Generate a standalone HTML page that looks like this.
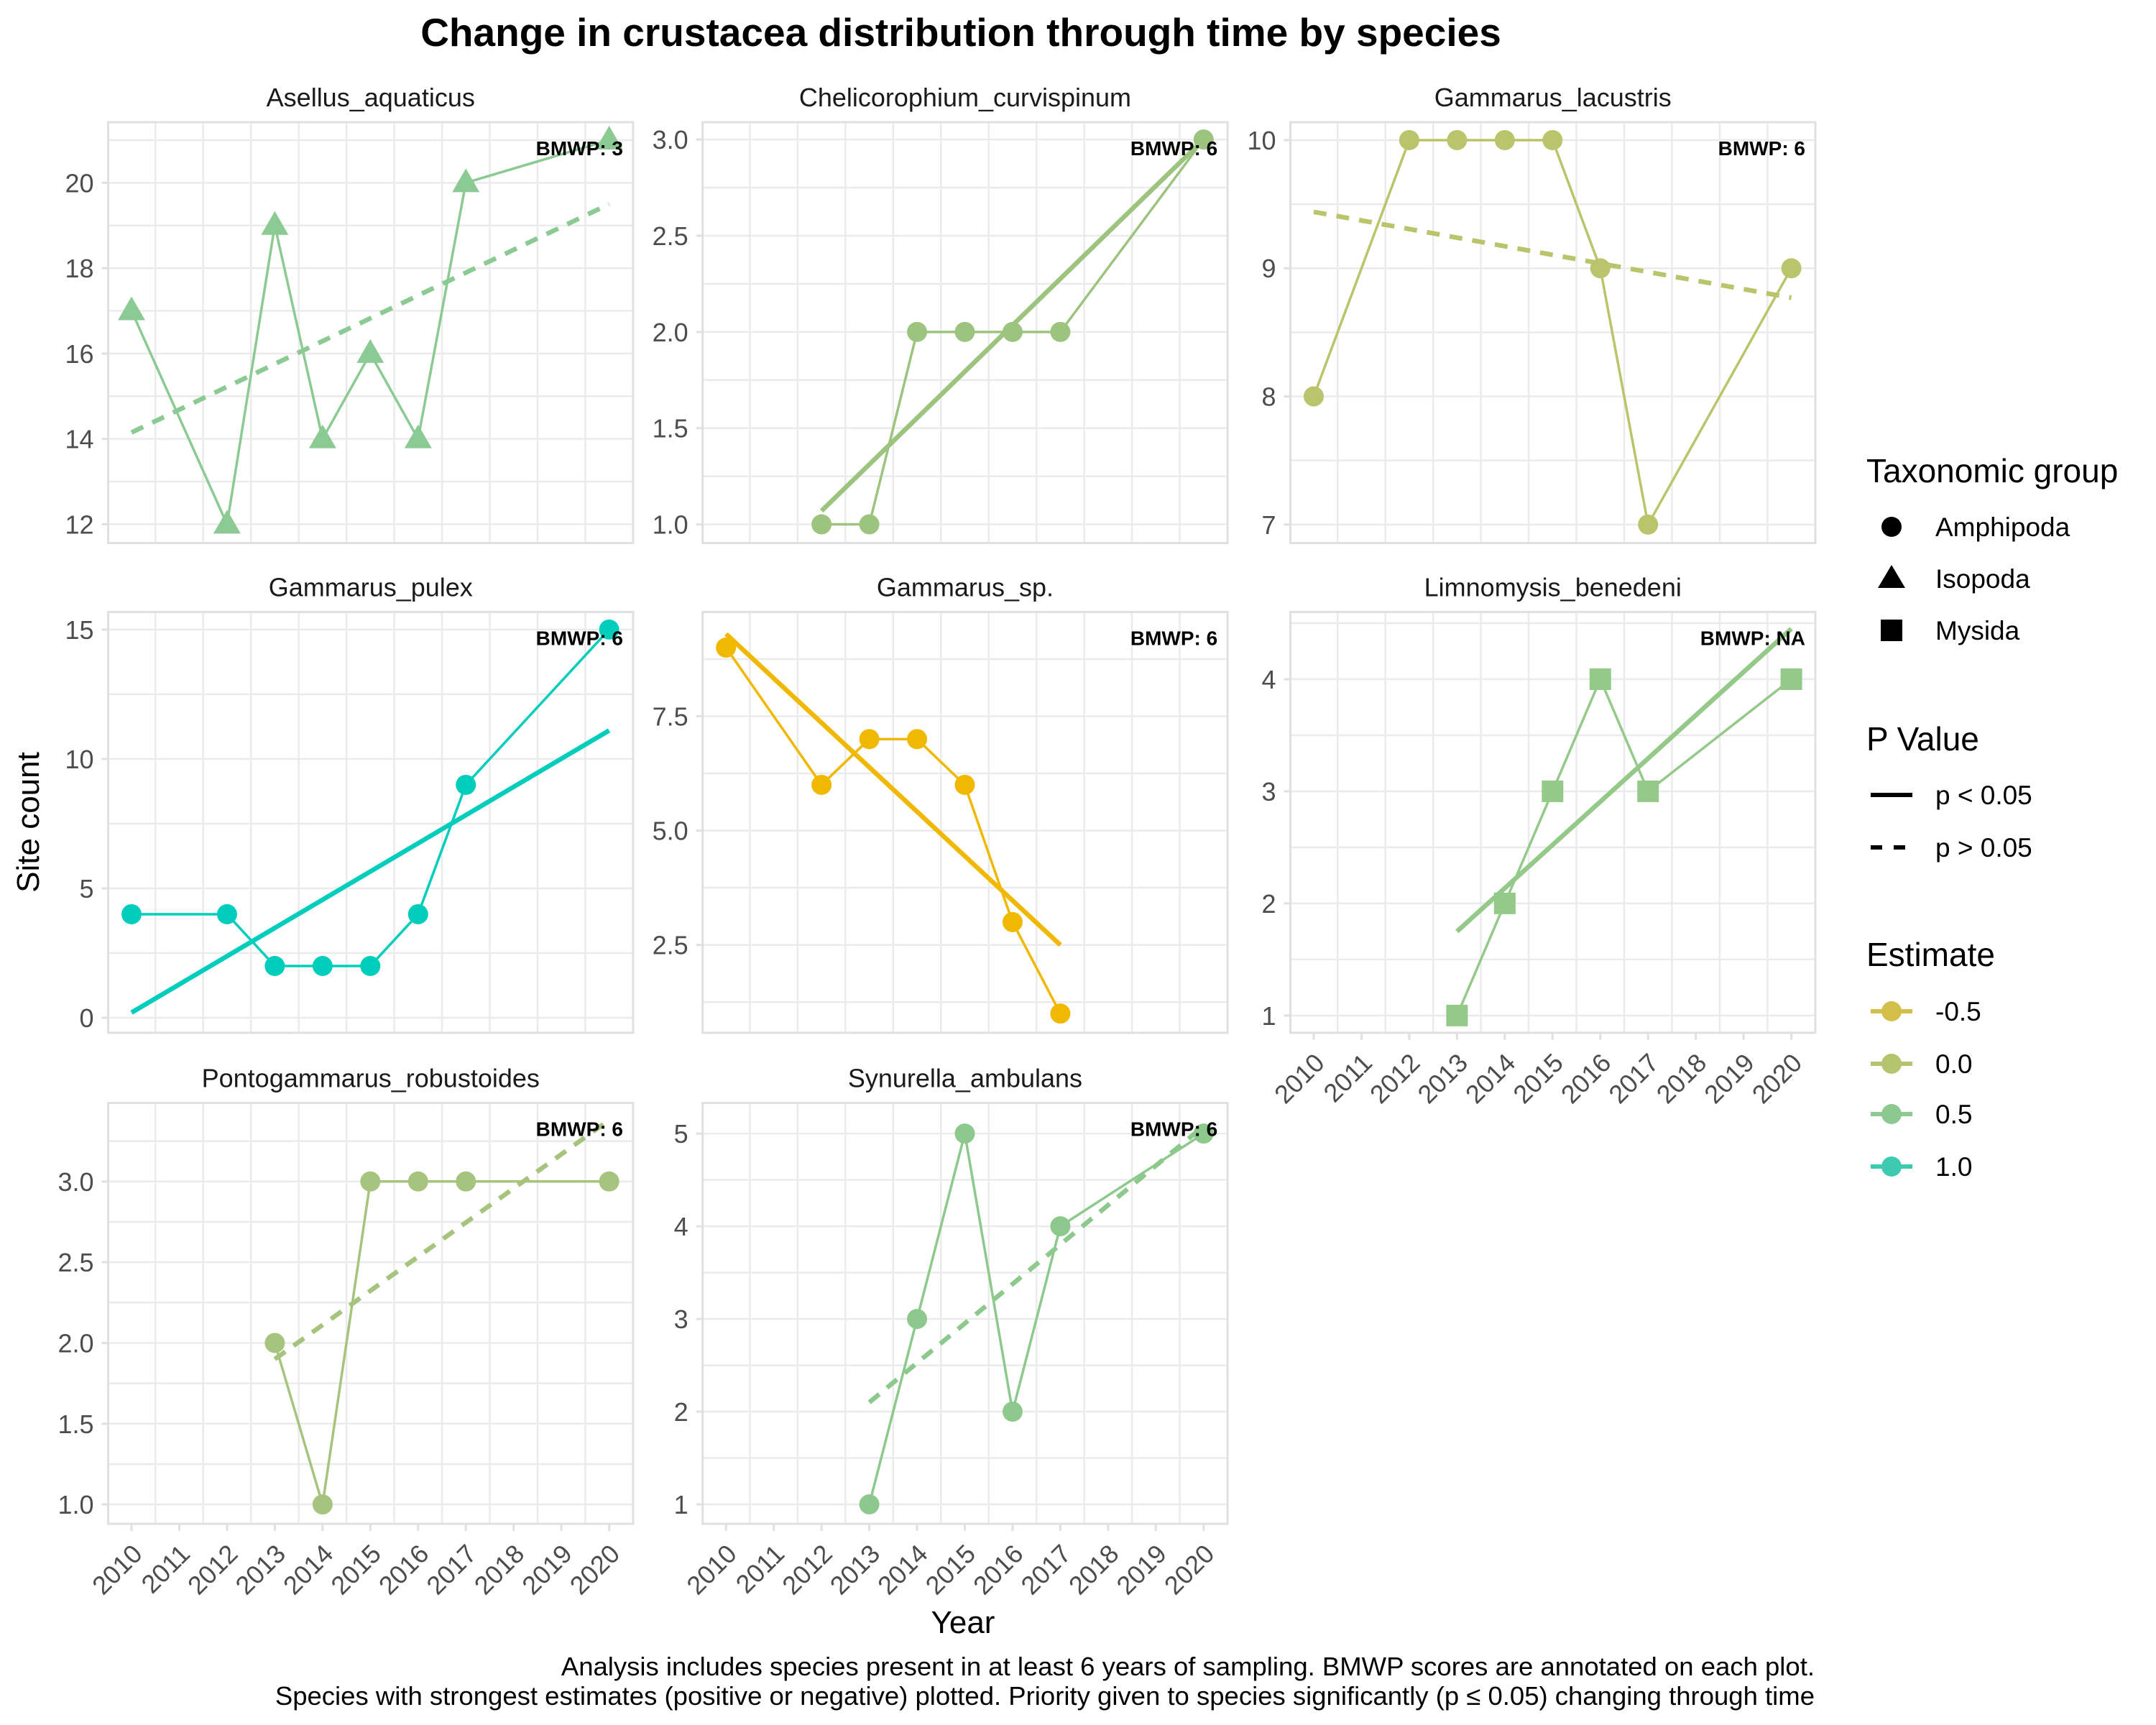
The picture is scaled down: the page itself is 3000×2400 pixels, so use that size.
<!DOCTYPE html>
<html><head><meta charset="utf-8">
<style>
html,body{margin:0;padding:0;background:#fff;}
svg{display:block;font-family:"Liberation Sans",Arial,sans-serif;}
</style></head>
<body>
<svg id="chart" width="3000" height="2400" viewBox="0 0 3000 2400" xmlns="http://www.w3.org/2000/svg">
<rect width="3000" height="2400" fill="#fff"/>
<text x="1337" y="64" font-size="55" font-weight="bold" text-anchor="middle" fill="#000">Change in crustacea distribution through time by species</text>
<text transform="translate(54,1144) rotate(-90)" font-size="44" text-anchor="middle" fill="#000">Site count</text>
<text x="1340" y="2272" font-size="44" text-anchor="middle" fill="#000">Year</text>
<text x="2525" y="2331" font-size="36.5" text-anchor="end" fill="#000">Analysis includes species present in at least 6 years of sampling. BMWP scores are annotated on each plot.</text>
<text x="2525" y="2372" font-size="36.5" text-anchor="end" fill="#000">Species with strongest estimates (positive or negative) plotted. Priority given to species significantly (p ≤ 0.05) changing through time</text>
<g id="panels"></g>
<g id="legend">
  <text x="2597" y="671" font-size="46" fill="#000">Taxonomic group</text>
  <circle cx="2632" cy="733" r="14" fill="#000"/>
  <text x="2693" y="746" font-size="37" fill="#000">Amphipoda</text>
  <polygon points="2613,818 2651,818 2632,786" fill="#000"/>
  <text x="2693" y="818" font-size="37" fill="#000">Isopoda</text>
  <rect x="2617" y="862" width="30" height="30" fill="#000"/>
  <text x="2693" y="890" font-size="37" fill="#000">Mysida</text>

  <text x="2597" y="1044" font-size="46" fill="#000">P Value</text>
  <line x1="2603" y1="1106" x2="2661" y2="1106" stroke="#000" stroke-width="6"/>
  <text x="2693" y="1119" font-size="37" fill="#000">p &lt; 0.05</text>
  <line x1="2603" y1="1179" x2="2661" y2="1179" stroke="#000" stroke-width="6" stroke-dasharray="16,16"/>
  <text x="2693" y="1192" font-size="37" fill="#000">p &gt; 0.05</text>

  <text x="2597" y="1344" font-size="46" fill="#000">Estimate</text>
  <g id="estLegend"></g>
</g>
</svg>
<script>
// ---- data ----
const speciesNames = ["Asellus_aquaticus","Chelicorophium_curvispinum","Gammarus_lacustris","Gammarus_pulex","Gammarus_sp.","Limnomysis_benedeni","Pontogammarus_robustoides","Synurella_ambulans"];
const bmwpLabels = ["BMWP: 3","BMWP: 6","BMWP: 6","BMWP: 6","BMWP: 6","BMWP: NA","BMWP: 6","BMWP: 6"];
const taxGroups = ["Isopoda","Amphipoda","Amphipoda","Amphipoda","Amphipoda","Mysida","Amphipoda","Amphipoda"];
const seriesColors = ["#8CCA94","#9DC47F","#BAC46A","#00CDBB","#F0B800","#95C98A","#A6C47E","#8DC98D"];
const asellusYears = [2010,2012,2013,2014,2015,2016,2017,2020];
const asellusCounts = [17,12,19,14,16,14,20,21];
const chelYears = [2012,2013,2014,2015,2016,2017,2020];
const chelCounts = [1,1,2,2,2,2,3];
const lacustrisYears = [2010,2012,2013,2014,2015,2016,2017,2020];
const lacustrisCounts = [8,10,10,10,10,9,7,9];
const pulexYears = [2010,2012,2013,2014,2015,2016,2017,2020];
const pulexCounts = [4,4,2,2,2,4,9,15];
const gspYears = [2010,2012,2013,2014,2015,2016,2017];
const gspCounts = [9,6,7,7,6,3,1];
const limnoYears = [2013,2014,2015,2016,2017,2020];
const limnoCounts = [1,2,3,4,3,4];
const pontoYears = [2013,2014,2015,2016,2017,2020];
const pontoCounts = [2,1,3,3,3,3];
const synYears = [2013,2014,2015,2016,2017,2020];
const synCounts = [1,3,5,2,4,5];
// trend lines: [startYear, endYear], [startValue, endValue]
const trendYears = [[2010,2020],[2012,2020],[2010,2020],[2010,2020],[2010,2017],[2013,2020],[2013,2020],[2013,2020]];
const trendValues = [[14.15,19.5],[1.07,3.0],[9.44,8.77],[0.2,11.1],[9.3,2.5],[1.75,4.45],[1.9,3.38],[2.1,5.08]];
const trendSignificant = [false,true,false,true,true,true,false,false];
// y domains and ticks
const yDomains = [[11.56,21.42],[0.903,3.09],[6.856,10.14],[-0.58,15.68],[0.58,9.78],[0.846,4.6],[0.88,3.486],[0.79,5.33]];
const yTickValues = [[12,14,16,18,20],[1,1.5,2,2.5,3],[7,8,9,10],[0,5,10,15],[2.5,5,7.5],[1,2,3,4],[1,1.5,2,2.5,3],[1,2,3,4,5]];
const yTickLabels = [["12","14","16","18","20"],["1.0","1.5","2.0","2.5","3.0"],["7","8","9","10"],["0","5","10","15"],["2.5","5.0","7.5"],["1","2","3","4"],["1.0","1.5","2.0","2.5","3.0"],["1","2","3","4","5"]];
const xTickYears = [2010,2011,2012,2013,2014,2015,2016,2017,2018,2019,2020];
const estimateLabels = ["-0.5","0.0","0.5","1.0"];
const estimateColors = ["#D4BE4A","#B5C46F","#8BC991","#3CCBB1"];

const allYears = [asellusYears,chelYears,lacustrisYears,pulexYears,gspYears,limnoYears,pontoYears,synYears];
const allCounts = [asellusCounts,chelCounts,lacustrisCounts,pulexCounts,gspCounts,limnoCounts,pontoCounts,synCounts];

// ---- layout ----
const colLeft = [150.5, 977.7, 1795.5];
const panelW = 730.5;
const rowTop = [170, 851.4, 1534.6];
const panelH = 585.5;
const showXAxis = [false,false,false,false,false,true,true,true];
const NS = "http://www.w3.org/2000/svg";
function mk(tag, attrs, parent){const e=document.createElementNS(NS,tag);for(const k in attrs)e.setAttribute(k,attrs[k]);parent.appendChild(e);return e;}
const root = document.getElementById("panels");

speciesNames.forEach((name, i) => {
  const L = colLeft[i%3], T = rowTop[Math.floor(i/3)], R = L+panelW, B = T+panelH;
  const g = mk("g", {}, root);
  
  
  const xs = y => L + 32.5 + (y-2010)*66.46;
  const [d0,d1] = yDomains[i];
  const ys = v => B - (v-d0)/(d1-d0)*panelH;
  const st = mk("text", {x:(L+R)/2, y:T-22, "font-size":36, "text-anchor":"middle", fill:"#1A1A1A"}, g);
  
  
  st.textContent = name;
  const tv = yTickValues[i];
  const step = tv[1]-tv[0];
  for (let v = tv[0]-step; v <= tv[tv.length-1]+step+1e-9; v += step/2) {
    const py = ys(v);
    if (py < T+1 || py > B-1) continue;
    const gl = mk("line", {x1:L, x2:R, y1:py, y2:py, stroke:"#EBEBEB", "stroke-width":2.5}, g);
    
    
  }
  for (let k = 0; k < xTickYears.length-1; k++) {
    const px = xs(xTickYears[k]+0.5);
    const gl = mk("line", {x1:px, x2:px, y1:T, y2:B, stroke:"#EBEBEB", "stroke-width":2.5}, g);
    
    
  }
  const br = mk("rect", {x:L, y:T, width:panelW, height:panelH, fill:"none", stroke:"#E0E0E0", "stroke-width":3}, g);
  
  
  tv.forEach((v, k) => {
    const py = ys(v);
    const tk = mk("line", {x1:L-9, x2:L, y1:py, y2:py, stroke:"#E0E0E0", "stroke-width":3}, g);
    
    
    const tl = mk("text", {x:L-20, y:py+13, "font-size":36, "text-anchor":"end", fill:"#4D4D4D"}, g);
    
    
    tl.textContent = yTickLabels[i][k];
  });
  if (showXAxis[i]) {
    xTickYears.forEach(yr => {
      const px = xs(yr);
      const tk = mk("line", {x1:px, x2:px, y1:B, y2:B+10, stroke:"#E0E0E0", "stroke-width":3}, g);
      
      
      const tl = mk("text", {transform:`translate(${px+17},${B+44}) rotate(-45)`, "font-size":36, "text-anchor":"end", fill:"#4D4D4D"}, g);
      
      
      tl.textContent = String(yr);
    });
  }
  const col = seriesColors[i];
  const yrs = allYears[i], cts = allCounts[i];
  const pts = yrs.map((y,k) => xs(y)+","+ys(cts[k])).join(" ");
  const pl = mk("polyline", {points:pts, fill:"none", stroke:col, "stroke-width":3.5, "stroke-linejoin":"round"}, g);
  
  
  const ty = trendYears[i], tvv = trendValues[i];
  const tline = mk("line", {x1:xs(ty[0]), y1:ys(tvv[0]), x2:xs(ty[1]), y2:ys(tvv[1]), stroke:col, "stroke-width":6.5}, g);
  if (!trendSignificant[i]) tline.setAttribute("stroke-dasharray","18,14");
  
  
  yrs.forEach((y,k) => {
    const cx = xs(y), cy = ys(cts[k]);
    let p;
    if (taxGroups[i] === "Isopoda") {
      p = mk("polygon", {points:`${cx-19},${cy+13} ${cx+19},${cy+13} ${cx},${cy-20}`, fill:col}, g);
    } else if (taxGroups[i] === "Mysida") {
      p = mk("rect", {x:cx-15, y:cy-15, width:30, height:30, fill:col}, g);
    } else {
      p = mk("circle", {cx:cx, cy:cy, r:14, fill:col}, g);
    }
    
    
  });
  const bl = mk("text", {x:R-14, y:T+46, "font-size":28, "font-weight":"bold", "text-anchor":"end", fill:"#000"}, g);
  
  
  bl.textContent = bmwpLabels[i];
});

const estY = [1407,1480,1550,1623];
const eg = document.getElementById("estLegend");
estimateLabels.forEach((lab, k) => {
  const ln = mk("line", {x1:2603, x2:2661, y1:estY[k], y2:estY[k], stroke:estimateColors[k], "stroke-width":6}, eg);
  
  
  const c = mk("circle", {cx:2632, cy:estY[k], r:14, fill:estimateColors[k]}, eg);
  
  
  const t = mk("text", {x:2693, y:estY[k]+13, "font-size":37, fill:"#000"}, eg);
  
  
  t.textContent = lab;
});
</script>
</body></html>
